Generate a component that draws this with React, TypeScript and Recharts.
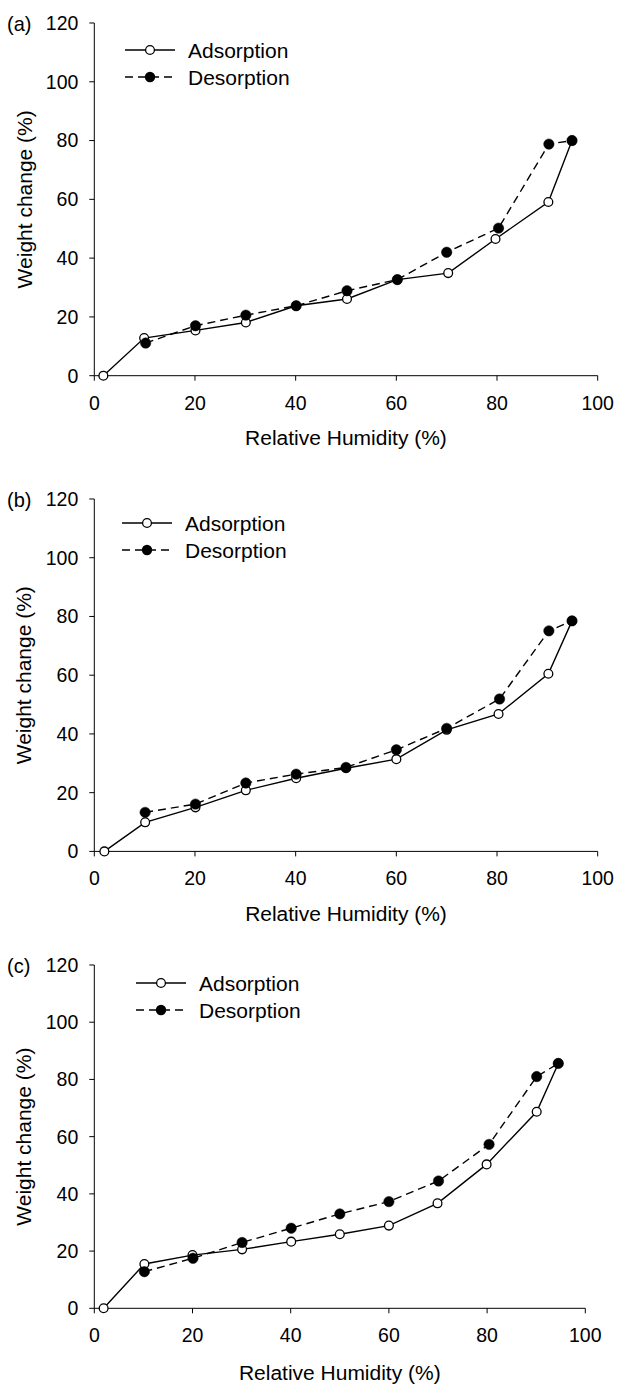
import React from "react";
import { LineChart, Line, XAxis, YAxis, Legend } from "recharts";

const FONT = "'Liberation Sans', Arial, sans-serif";

const RH_TICKS = [0, 20, 40, 60, 80, 100];
const WEIGHT_TICKS = [0, 20, 40, 60, 80, 100, 120];

// (a)
const A_ADS_RH = [1.8, 9.9, 20.1, 30.1, 40.1, 50.2, 60.2, 70.3, 79.7, 90.2, 94.9];
const A_ADS_WC = [0, 12.8, 15.4, 18.1, 23.8, 26.1, 32.7, 34.9, 46.5, 59.1, 80.0];
const A_DES_RH = [10.2, 20.1, 30.1, 40.1, 50.2, 60.2, 70.0, 80.3, 90.3, 94.9];
const A_DES_WC = [11.1, 17.0, 20.6, 23.8, 28.9, 32.7, 42.0, 50.2, 78.8, 80.0];

// (b)
const B_ADS_RH = [2.0, 10.1, 20.1, 30.1, 40.1, 50.0, 60.0, 70.0, 80.3, 90.2, 94.9];
const B_ADS_WC = [0, 9.9, 15.0, 20.8, 24.9, 28.3, 31.4, 41.4, 46.8, 60.5, 78.5];
const B_DES_RH = [10.1, 20.1, 30.1, 40.1, 50.0, 60.0, 70.0, 80.5, 90.3, 94.9];
const B_DES_WC = [13.3, 16.1, 23.3, 26.3, 28.6, 34.6, 41.9, 51.9, 75.1, 78.5];

// (c)
const C_ADS_RH = [1.9, 10.2, 20.0, 30.1, 40.1, 50.0, 60.0, 69.9, 79.9, 90.1, 94.5];
const C_ADS_WC = [0, 15.5, 18.6, 20.6, 23.3, 25.9, 28.9, 36.7, 50.3, 68.7, 85.6];
const C_DES_RH = [10.2, 20.1, 30.1, 40.1, 50.0, 60.0, 70.1, 80.4, 90.1, 94.5];
const C_DES_WC = [12.8, 17.5, 23.0, 28.0, 33.0, 37.3, 44.5, 57.3, 81.0, 85.6];

const toPoints = (rh: number[], wc: number[]) => rh.map((x, i) => ({ rh: x, wc: wc[i] }));

const PANELS = [
  { tag: "(a)", ads: toPoints(A_ADS_RH, A_ADS_WC), des: toPoints(A_DES_RH, A_DES_WC), plotTop: 23, plotBottom: 375.7, plotRight: 597.7, legendX: 125, legendY: 50, titleGap: 62 },
  { tag: "(b)", ads: toPoints(B_ADS_RH, B_ADS_WC), des: toPoints(B_DES_RH, B_DES_WC), plotTop: 499.3, plotBottom: 851.7, plotRight: 597.7, legendX: 122, legendY: 523.3, titleGap: 62 },
  { tag: "(c)", ads: toPoints(C_ADS_RH, C_ADS_WC), des: toPoints(C_DES_RH, C_DES_WC), plotTop: 965, plotBottom: 1308.3, plotRight: 585.3, legendX: 136, legendY: 983.3, titleGap: 64 },
];

const PLOT_LEFT = 94.3;
const TOP_PAD = 23;

const OpenDot = (props: any) => (
  <circle cx={props.cx} cy={props.cy} r={4.4} fill="#fff" stroke="#000" strokeWidth={1.3} />
);
const FilledDot = (props: any) => (
  <circle cx={props.cx} cy={props.cy} r={5.2} fill="#000" stroke="#000" strokeWidth={0.5} />
);

function LegendBox() {
  const rows = [
    { name: "Adsorption", dash: undefined, filled: false },
    { name: "Desorption", dash: "8 5", filled: true },
  ];
  return (
    <svg width={200} height={60} style={{ display: "block" }}>
      {rows.map((r, i) => {
        const y = 13 + i * 27;
        return (
          <g key={r.name}>
            <line x1={0} y1={y} x2={50} y2={y} stroke="#000" strokeWidth={1.4} strokeDasharray={r.dash} />
            {r.filled ? (
              <circle cx={25} cy={y} r={5.2} fill="#000" />
            ) : (
              <circle cx={25} cy={y} r={4.4} fill="#fff" stroke="#000" strokeWidth={1.3} />
            )}
            <text x={63} y={y} dominantBaseline="central" fontSize={21} fontFamily={FONT} fill="#000">
              {r.name}
            </text>
          </g>
        );
      })}
    </svg>
  );
}

function Panel({ p }: { p: (typeof PANELS)[number] }) {
  const boxTop = p.plotTop - TOP_PAD;
  const plotH = p.plotBottom - p.plotTop;
  const height = TOP_PAD + plotH + 80;
  const tickStyle = { fill: "#000", fontSize: 19.5, fontFamily: FONT };
  return (
    <div style={{ position: "absolute", left: 0, top: boxTop }}>
      <LineChart width={621} height={height} margin={{ top: TOP_PAD, right: 621 - p.plotRight, left: 0, bottom: 0 }}>
        <XAxis
          type="number"
          dataKey="rh"
          domain={[0, 100]}
          ticks={RH_TICKS}
          height={80}
          tickSize={5}
          tickMargin={15}
          stroke="#000"
          tick={tickStyle}
          label={{
            content: () => (
              <text
                x={(PLOT_LEFT + p.plotRight) / 2}
                y={TOP_PAD + plotH + p.titleGap}
                textAnchor="middle"
                dominantBaseline="central"
                fontSize={21}
                fontFamily={FONT}
                fill="#000"
              >
                Relative Humidity (%)
              </text>
            ),
          }}
        />
        <YAxis
          type="number"
          domain={[0, 120]}
          ticks={WEIGHT_TICKS}
          width={PLOT_LEFT}
          tickSize={5}
          tickMargin={11}
          stroke="#000"
          tick={tickStyle}
          label={{
            content: () => (
              <g>
                <text x={7} y={TOP_PAD + 1} dominantBaseline="central" fontSize={20} fontFamily={FONT} fill="#000">
                  {p.tag}
                </text>
                <text
                  x={24}
                  y={TOP_PAD + plotH / 2}
                  transform={`rotate(-90 24 ${TOP_PAD + plotH / 2})`}
                  textAnchor="middle"
                  dominantBaseline="central"
                  fontSize={21}
                  fontFamily={FONT}
                  fill="#000"
                >
                  Weight change (%)
                </text>
              </g>
            ),
          }}
        />
        <Legend
          layout="vertical"
          align="center"
          verticalAlign="middle"
          content={() => <LegendBox />}
          wrapperStyle={{ left: p.legendX, top: p.legendY - boxTop - 13, width: 200, height: 60 }}
        />
        <Line
          data={p.ads}
          dataKey="wc"
          name="Adsorption"
          stroke="#000"
          strokeWidth={1.4}
          dot={<OpenDot />}
          activeDot={false}
          isAnimationActive={false}
        />
        <Line
          data={p.des}
          dataKey="wc"
          name="Desorption"
          stroke="#000"
          strokeWidth={1.4}
          strokeDasharray="8 5"
          dot={<FilledDot />}
          activeDot={false}
          isAnimationActive={false}
        />
      </LineChart>
    </div>
  );
}

export default function App() {
  return (
    <div style={{ position: "absolute", left: 0, top: 0, width: 621, height: 1385, background: "#fff" }}>
      {PANELS.map((p) => (
        <Panel key={p.tag} p={p} />
      ))}
    </div>
  );
}
